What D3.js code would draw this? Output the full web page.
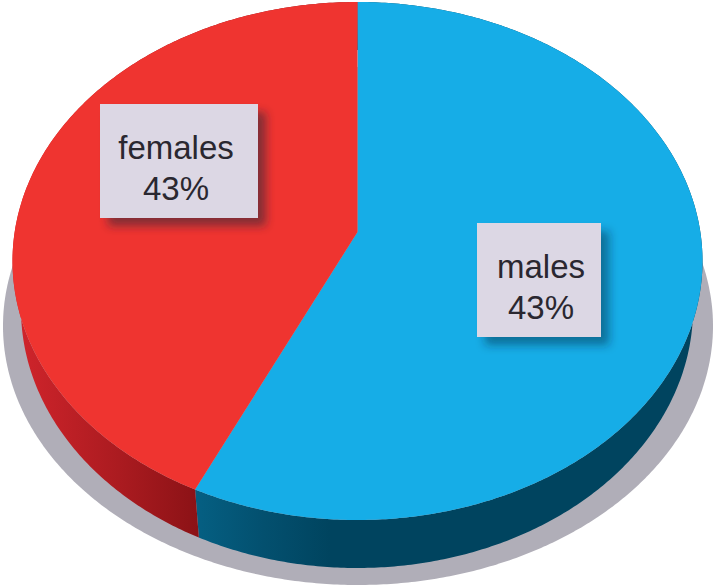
<!DOCTYPE html>
<html>
<head>
<meta charset="utf-8">
<script src="https://cdn.jsdelivr.net/npm/d3@7"></script>
<style>html,body{margin:0;padding:0;background:#fff}svg{display:block}</style>
</head>
<body>
<svg id="c" width="715" height="588"></svg>
<script>
const categories = ["males", "females"];
const shares = [57.8, 42.2];
const labels = ["43%", "43%"];
const topColors = ["#16ade7", "#ef3430"];

const svg = d3.select("#c");
const defs = svg.append("defs");

function sideGrad(id, x1, x2, stops) {
  const g = defs.append("linearGradient").attr("id", id).attr("gradientUnits", "userSpaceOnUse")
    .attr("x1", x1).attr("x2", x2).attr("y1", 0).attr("y2", 0);
  stops.forEach(s => g.append("stop").attr("offset", s[0]).attr("stop-color", s[1]));
}
sideGrad("sideBlue", 197, 330, [[0, "#055f82"], [0.5, "#03506f"], [1, "#00445f"]]);
sideGrad("sideRed", 20, 199, [[0, "#cf242b"], [0.55, "#ab1b20"], [1, "#8b1216"]]);

const f = defs.append("filter").attr("id", "boxShadow")
  .attr("x", "-20%").attr("y", "-20%").attr("width", "150%").attr("height", "150%");
f.append("feDropShadow").attr("dx", 8).attr("dy", 8).attr("stdDeviation", 5)
  .attr("flood-color", "#10223a").attr("flood-opacity", 0.45);

const top3d = { x: d3.scaleLinear([-1, 1], [12.5, 702.5]), y: d3.scaleLinear([-1, 1], [520, 2]) };
const low3d = { x: d3.scaleLinear([-1, 1], [21, 693]), y: d3.scaleLinear([-1, 1], [568, 50]) };
const shadow = { x: d3.scaleLinear([-1, 1], [3, 713]), y: d3.scaleLinear([-1, 1], [585, 67]) };
const apexV = 0.112;

const pie = d3.pie().sort(null)(shares);
const line = d3.line().x(d => d[0]).y(d => d[1]);
const step = 0.01;

function rim(sc, a0, a1) {
  const pts = d3.range(a0, a1, step).concat([a1]);
  return pts.map(a => [sc.x(Math.sin(a)), sc.y(Math.cos(a))]);
}

svg.append("path")
  .attr("d", line(rim(shadow, 0, 2 * Math.PI)) + "Z")
  .attr("fill", "#b0aeb8");

const sideFills = ["url(#sideBlue)", "url(#sideRed)"];
svg.selectAll("path.side").data(pie).join("path").attr("class", "side")
  .attr("fill", (d, i) => sideFills[i])
  .attr("d", d => line(rim(top3d, d.startAngle, d.endAngle).concat(rim(low3d, d.startAngle, d.endAngle).reverse())) + "Z");

svg.selectAll("path.top").data(pie).join("path").attr("class", "top")
  .attr("fill", (d, i) => topColors[i])
  .attr("d", d => line([[top3d.x(0), top3d.y(apexV)]].concat(rim(top3d, d.startAngle, d.endAngle))) + "Z");

const boxX = d3.scaleOrdinal(categories, [477, 100]);
const boxY = d3.scaleOrdinal(categories, [223, 104]);
const boxW = d3.scaleOrdinal(categories, [124, 158]);
const boxH = 114;

const g = svg.selectAll("g.lab").data(categories).join("g").attr("class", "lab");
g.append("rect")
  .attr("x", d => boxX(d)).attr("y", d => boxY(d))
  .attr("width", d => boxW(d)).attr("height", boxH)
  .attr("fill", "#dcd7e4").attr("filter", "url(#boxShadow)");
const txt = sel => sel.attr("x", d => boxX(d) + boxW(d) / 2 + (d === "females" ? -3 : 2))
  .attr("text-anchor", "middle").attr("font-family", "'Liberation Sans', Arial, sans-serif")
  .attr("font-size", 33).attr("fill", "#2a2730");
g.append("text").call(txt).attr("y", d => boxY(d) + 55).text(d => d);
g.append("text").call(txt).attr("y", d => boxY(d) + 96).text((d, i) => labels[i]);
</script>
</body>
</html>
